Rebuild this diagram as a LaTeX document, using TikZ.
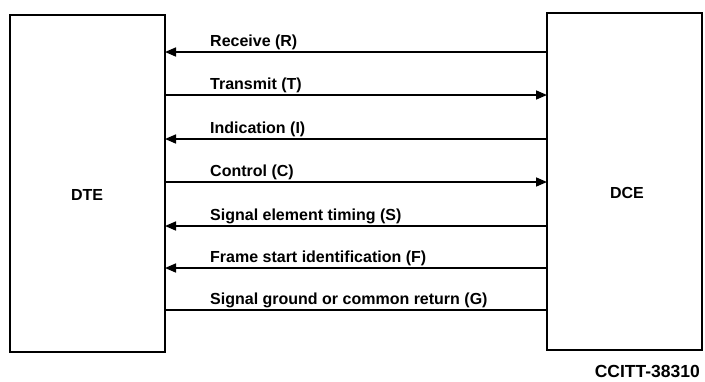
\documentclass[tikz,border=0pt]{standalone}
\usepackage{fontspec}
\setmainfont{Liberation Sans}
\usetikzlibrary{arrows.meta}
\begin{document}
\begin{tikzpicture}[x=1pt,y=-1pt,
  unit/.style={draw,line width=2.4pt,inner sep=0pt},
  sig/.style={line width=1.6pt},
  tip/.style={-{Triangle[length=11pt,width=9pt]}},
  lbl/.style={anchor=base west,inner sep=0pt,font=\fontsize{16}{16}\selectfont\bfseries},
  foot/.style={anchor=base east,inner sep=0pt,font=\fontsize{17.5}{17.5}\selectfont\bfseries}]
\useasboundingbox (0,0) rectangle (705,381);
\path[unit] (10,15) rectangle (165,352);
\path[unit] (547,13) rectangle (702,350);
\node[inner sep=0pt,font=\fontsize{16}{16}\selectfont\bfseries] (dte) at (87,195) {DTE};
\node[inner sep=0pt,font=\fontsize{16}{16}\selectfont\bfseries] (dce) at (627,193) {DCE};
% connectors
\coordinate (lR) at (165,52);  \coordinate (rR) at (547,52);
\coordinate (lT) at (165,95);  \coordinate (rT) at (547,95);
\coordinate (lI) at (165,139); \coordinate (rI) at (547,139);
\coordinate (lC) at (165,182); \coordinate (rC) at (547,182);
\coordinate (lS) at (165,226); \coordinate (rS) at (547,226);
\coordinate (lF) at (165,268); \coordinate (rF) at (547,268);
\coordinate (lG) at (165,310); \coordinate (rG) at (547,310);
\draw[sig,tip] (rR) -- (lR);
\draw[sig,tip] (lT) -- (rT);
\draw[sig,tip] (rI) -- (lI);
\draw[sig,tip] (lC) -- (rC);
\draw[sig,tip] (rS) -- (lS);
\draw[sig,tip] (rF) -- (lF);
\draw[sig] (lG) -- (rG);
\node[lbl] (tR) at (210,46) {Receive (R)};
\node[lbl] (tT) at (210,89) {Transmit (T)};
\node[lbl] (tI) at (210,133) {Indication (I)};
\node[lbl] (tC) at (210,176) {Control (C)};
\node[lbl] (tS) at (210,220) {Signal element timing (S)};
\node[lbl] (tF) at (210,262) {Frame start identification (F)};
\node[lbl] (tG) at (210,304) {Signal ground or common return (G)};
\node[foot] (ft) at (700,377) {CCITT-38310};
\end{tikzpicture}
\end{document}
